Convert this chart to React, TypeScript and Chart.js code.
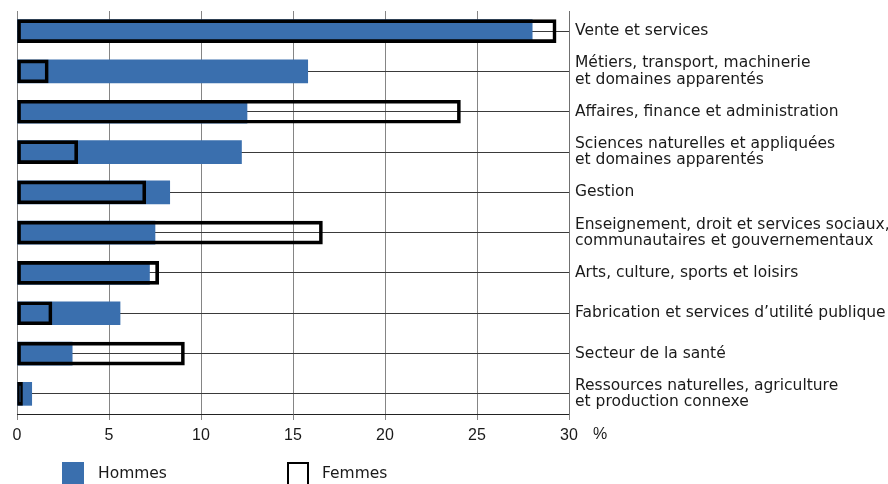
import React, { useEffect, useRef } from "react";
import { Chart, registerables } from "chart.js";

Chart.register(...registerables);

const categories: (string | string[])[] = [
  "Vente et services",
  ["Métiers, transport, machinerie", "et domaines apparentés"],
  "Affaires, finance et administration",
  ["Sciences naturelles et appliquées", "et domaines apparentés"],
  "Gestion",
  ["Enseignement, droit et services sociaux,", "communautaires et gouvernementaux"],
  "Arts, culture, sports et loisirs",
  "Fabrication et services d’utilité publique",
  "Secteur de la santé",
  ["Ressources naturelles, agriculture", "et production connexe"],
];

const hommes = [28.0, 15.8, 12.5, 12.2, 8.3, 7.5, 7.2, 5.6, 3.0, 0.8];
const femmes = [29.3, 1.7, 24.1, 3.3, 7.0, 16.6, 7.7, 1.9, 9.1, 0.3];

const xMin = 0;
const xMax = 30;
const xStep = 5;
const unitLabel = "%";
const legendLabels = ["Hommes", "Femmes"];

const BLUE = "#3a6fae";
const LABEL_FONT = '"DejaVu Sans", sans-serif';
const TICK_FONT = '"Liberation Sans", Arial, sans-serif';

const unitPlugin = {
  id: "unitLabel",
  afterDraw(chart: any) {
    const x = chart.scales.x;
    const ctx = chart.ctx;
    ctx.save();
    ctx.font = `16px ${TICK_FONT}`;
    ctx.fillStyle = "#1a1a1a";
    ctx.textAlign = "left";
    ctx.textBaseline = "top";
    ctx.fillText(unitLabel, x.getPixelForValue(xMax) + 24, x.top + 6 + 7);
    ctx.restore();
  },
};

export default function App() {
  const ref = useRef<HTMLCanvasElement | null>(null);

  useEffect(() => {
    if (!ref.current) return;
    const chart = new Chart(ref.current, {
      type: "bar",
      data: {
        labels: categories,
        datasets: [
          {
            label: legendLabels[0],
            data: hommes,
            backgroundColor: BLUE,
            borderWidth: 0,
            grouped: false,
            barThickness: 23,
            order: 1,
          } as any,
          {
            label: legendLabels[1],
            data: femmes,
            backgroundColor: "rgba(255,255,255,0)",
            borderColor: "#000000",
            borderWidth: 3,
            borderSkipped: false,
            grouped: false,
            barThickness: 23,
            order: 0,
          } as any,
        ],
      },
      options: {
        indexAxis: "y",
        animation: false,
        responsive: false,
        layout: { padding: { top: 11, left: 17, right: 0, bottom: 0 } },
        plugins: {
          legend: { display: false },
          tooltip: { enabled: false },
        },
        scales: {
          x: {
            type: "linear",
            min: xMin,
            max: xMax,
            ticks: {
              stepSize: xStep,
              padding: 6,
              color: "#1a1a1a",
              font: { family: TICK_FONT, size: 16 },
            },
            grid: {
              color: "#858585",
              lineWidth: 1,
              drawTicks: true,
              tickLength: 6,
              tickColor: "#858585",
            },
            border: { display: true, color: "#222222", width: 1 },
            afterFit: (s: any) => {
              s.height = 70;
            },
          },
          y: {
            type: "category",
            position: "right",
            offset: true,
            grid: {
              offset: false,
              color: "#3a3a3a",
              lineWidth: 1,
              drawTicks: false,
            },
            border: { display: true, color: "#707070", width: 1 },
            ticks: {
              padding: 6,
              color: "#1a1a1a",
              font: { family: LABEL_FONT, size: 15.5, lineHeight: 1.05 },
            },
            afterFit: (s: any) => {
              s.width = 319;
              s.paddingTop = 0;
              s.paddingBottom = 0;
            },
          },
        },
      },
      plugins: [unitPlugin],
    } as any);
    return () => chart.destroy();
  }, []);

  const legendText: React.CSSProperties = {
    position: "absolute",
    top: 464,
    fontFamily: LABEL_FONT,
    fontSize: 15.5,
    color: "#1a1a1a",
    lineHeight: "18px",
    whiteSpace: "nowrap",
  };

  return (
    <div
      style={{
        position: "absolute",
        left: 0,
        top: 0,
        width: 888,
        height: 484,
        overflow: "hidden",
        background: "#ffffff",
      }}
    >
      <canvas ref={ref} width={888} height={484} style={{ display: "block" }} />
      <div
        style={{
          position: "absolute",
          left: 62,
          top: 462,
          width: 22,
          height: 22,
          background: BLUE,
        }}
      />
      <div style={{ ...legendText, left: 98 }}>{legendLabels[0]}</div>
      <div
        style={{
          position: "absolute",
          left: 287,
          top: 462,
          width: 18,
          height: 22,
          border: "2px solid #000",
          borderBottom: "none",
          background: "#ffffff",
        }}
      />
      <div style={{ ...legendText, left: 322 }}>{legendLabels[1]}</div>
    </div>
  );
}
